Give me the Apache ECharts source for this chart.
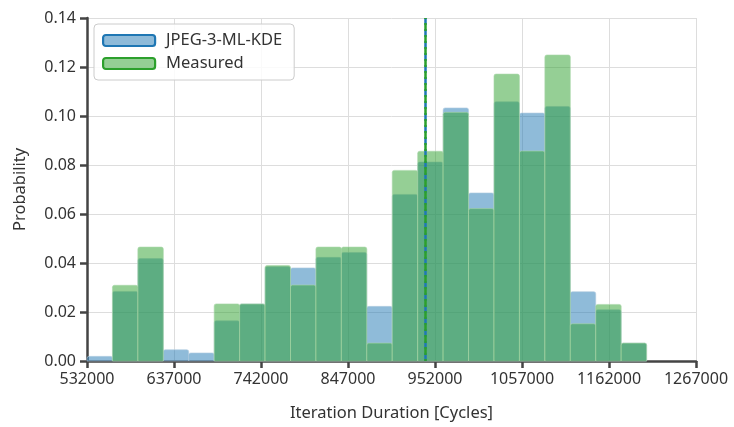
<!DOCTYPE html>
<html>
<head>
<meta charset="utf-8">
<script src="https://cdn.jsdelivr.net/npm/echarts@6/dist/echarts.min.js"></script>
<style>html,body{margin:0;padding:0;background:#fff}#c{width:734px;height:427px}</style>
</head>
<body>
<div id="c"></div>
<script>
const binStart = 532000;
const binWidth = 30700;
const kdeProb = [0.0019, 0.0284, 0.0418, 0.0046, 0.0033, 0.0164, 0.0233, 0.0385, 0.0380, 0.0423, 0.0443, 0.0223, 0.0680, 0.0812, 0.1033, 0.0686, 0.1058, 0.1012, 0.1039, 0.0283, 0.0209, 0.0073];
const measuredProb = [0, 0.0309, 0.0465, 0, 0, 0.0233, 0.0233, 0.0390, 0.0310, 0.0465, 0.0465, 0.0073, 0.0778, 0.0856, 0.1015, 0.0622, 0.1171, 0.0857, 0.1249, 0.0152, 0.0231, 0.0073];
const meanKde = 940500;
const meanMeasured = 940500;
const xTicks = [532000, 637000, 742000, 847000, 952000, 1057000, 1162000, 1267000];

function toBins(vals) {
  return vals.map((v, i) => [binStart + i * binWidth, binStart + (i + 1) * binWidth, v]);
}

function makeRender(fill, stroke) {
  return function (params, api) {
    const v = api.value(2);
    if (!v) return null;
    const p0 = api.coord([api.value(0), 0]);
    const p1 = api.coord([api.value(1), v]);
    return {
      type: 'rect',
      shape: { x: p0[0], y: p1[1], width: p1[0] - p0[0], height: p0[1] - p1[1], r: [2, 2, 0, 0] },
      style: { fill: fill, stroke: stroke, lineWidth: 1 }
    };
  };
}

const font = 'Noto Sans';
const chart = echarts.init(document.getElementById('c'));
chart.setOption({
  animation: false,
  backgroundColor: '#fff',
  textStyle: { fontFamily: font },
  grid: { left: 87, right: 38, top: 18, bottom: 66, containLabel: false },
  legend: {
    orient: 'vertical',
    left: 94,
    top: 24,
    backgroundColor: 'rgba(255,255,255,0.85)',
    borderColor: '#cccccc',
    borderWidth: 1,
    borderRadius: 4,
    padding: [8, 12, 8, 8],
    itemGap: 6,
    itemWidth: 52,
    itemHeight: 11,
    icon: 'roundRect',
    textStyle: { fontFamily: font, fontSize: 16.5, color: '#333', padding: [0, 0, 0, 6] },
    data: [
      { name: 'JPEG-3-ML-KDE', itemStyle: { color: 'rgba(31,119,180,0.5)', borderColor: '#1f77b4', borderWidth: 2.2 } },
      { name: 'Measured', itemStyle: { color: 'rgba(44,160,44,0.5)', borderColor: '#2ca02c', borderWidth: 2.2 } }
    ]
  },
  xAxis: {
    type: 'value',
    min: xTicks[0],
    max: xTicks[xTicks.length - 1],
    interval: 105000,
    name: 'Iteration Duration [Cycles]',
    nameLocation: 'middle',
    nameGap: 44,
    nameTextStyle: { fontFamily: font, fontSize: 16.5, color: '#333' },
    axisLine: { show: true, lineStyle: { color: '#444', width: 2.5 } },
    axisTick: { show: true, inside: false, length: 7, lineStyle: { color: '#444', width: 2.5 } },
    axisLabel: { fontFamily: font, fontSize: 16, color: '#333', margin: 10, formatter: v => String(v), showMinLabel: true, showMaxLabel: true },
    splitLine: { show: true, lineStyle: { color: '#dddddd', width: 1 } }
  },
  yAxis: {
    type: 'value',
    min: 0,
    max: 0.14,
    interval: 0.02,
    name: 'Probability',
    nameLocation: 'middle',
    nameGap: 58,
    nameTextStyle: { fontFamily: font, fontSize: 16.5, color: '#333' },
    axisLine: { show: true, lineStyle: { color: '#444', width: 2.5 } },
    axisTick: { show: true, inside: false, length: 7, lineStyle: { color: '#444', width: 2.5 } },
    axisLabel: { fontFamily: font, fontSize: 16, color: '#333', margin: 11, formatter: v => v.toFixed(2) },
    splitLine: { show: true, lineStyle: { color: '#dddddd', width: 1 } }
  },
  series: [
    {
      name: 'JPEG-3-ML-KDE',
      type: 'custom',
      renderItem: makeRender('rgba(31,119,180,0.5)', 'rgba(180,205,225,0.6)'),
      encode: { x: [0, 1], y: 2 },
      data: toBins(kdeProb),
      itemStyle: { color: 'rgba(31,119,180,0.5)' },
      z: 2,
      markLine: {
        symbol: 'none',
        silent: true,
        label: { show: false },
        lineStyle: { color: '#1f77b4', type: [8, 4], width: 2.5 },
        data: [{ xAxis: meanKde }]
      }
    },
    {
      name: 'Measured',
      type: 'custom',
      renderItem: makeRender('rgba(44,160,44,0.5)', 'rgba(170,215,170,0.6)'),
      encode: { x: [0, 1], y: 2 },
      data: toBins(measuredProb),
      itemStyle: { color: 'rgba(44,160,44,0.5)' },
      z: 3,
      markLine: {
        symbol: 'none',
        silent: true,
        label: { show: false },
        lineStyle: { color: '#2ca02c', type: [8, 4], dashOffset: 6, width: 2.5 },
        data: [{ xAxis: meanMeasured }]
      }
    }
  ]
});
</script>
</body>
</html>
